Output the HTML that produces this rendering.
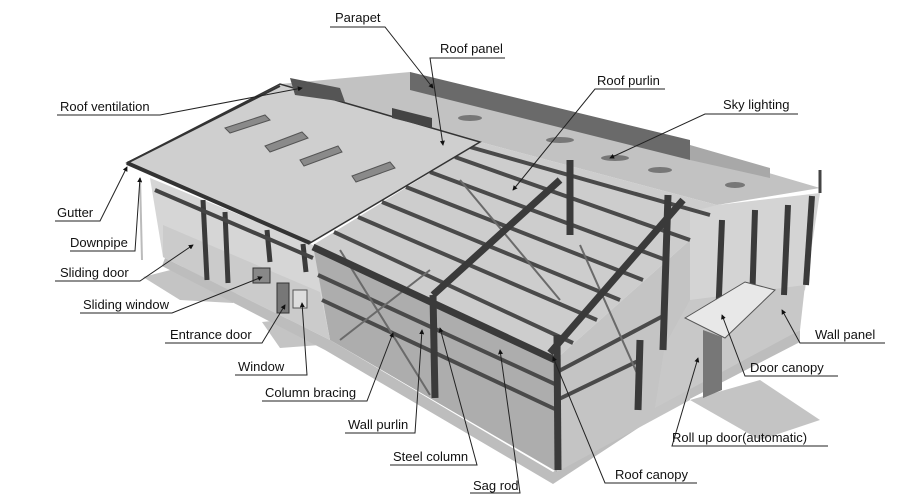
<!DOCTYPE html>
<html><head><meta charset="utf-8"><style>
html,body{margin:0;padding:0;background:#fff;}
svg{display:block;}
text{font-family:"Liberation Sans",sans-serif;font-size:13px;fill:#111;}
</style></head><body>
<svg width="900" height="494" viewBox="0 0 900 494" xmlns="http://www.w3.org/2000/svg">
<defs>
<marker id="a" viewBox="0 0 6 6" refX="5" refY="3" markerWidth="5" markerHeight="5" orient="auto"><path d="M0,0L6,3L0,6z" fill="#111"/></marker>
</defs>
<polygon points="143,277 190,265 240,285 233,303 180,300" fill="#c4c4c4"/>
<polygon points="690,400 760,380 820,420 760,440" fill="#c4c4c4"/>
<polygon points="262,322 300,318 320,345 280,348" fill="#c4c4c4"/>
<polygon points="165,258 330,340 553,472 655,405 800,330 800,342 655,417 553,484 325,350 162,266" fill="#bdbdbd"/>
<polygon points="280,84 410,72 690,150 820,188 717,205 480,142" fill="#c2c2c2"/>
<polygon points="410,72 690,140 690,160 410,90" fill="#6a6a6a"/>
<polygon points="690,145 770,168 770,178 690,160" fill="#a8a8a8"/>
<g fill="#777"><ellipse cx="615" cy="158" rx="14" ry="3"/><ellipse cx="660" cy="170" rx="12" ry="3"/><ellipse cx="735" cy="185" rx="10" ry="3"/><ellipse cx="560" cy="140" rx="14" ry="3"/><ellipse cx="470" cy="118" rx="12" ry="3"/></g>
<polygon points="313,245 480,142 717,205 690,240 555,360" fill="#cdcdcd"/>
<polygon points="313,250 555,360 557,472 330,340" fill="#adadad"/>
<polygon points="555,360 690,240 690,400 557,472" fill="#c4c4c4"/>
<polygon points="150,178 313,245 330,340 163,257" fill="#d6d6d6"/>
<polygon points="163,225 320,292 330,340 163,257" fill="#cbcbcb"/>
<g stroke="#3a3a3a" stroke-width="5"><line x1="203" y1="200" x2="207" y2="280"/><line x1="225" y1="212" x2="228" y2="283"/><line x1="267" y1="230" x2="270" y2="262"/><line x1="303" y1="244" x2="306" y2="272"/></g>
<line x1="155" y1="190" x2="313" y2="258" stroke="#444" stroke-width="4"/>
<rect x="253" y="268" width="17" height="15" fill="#888" stroke="#333"/>
<rect x="277" y="283" width="12" height="30" fill="#777" stroke="#333"/>
<rect x="293" y="290" width="14" height="18" fill="#ddd" stroke="#555"/>
<polygon points="690,212 717,205 820,193 805,290 690,335" fill="#d4d4d4"/>
<polygon points="665,345 805,290 780,318 655,408" fill="#c8c8c8"/>
<polygon points="690,300 805,285 800,330 655,408 665,345" fill="#c8c8c8"/>
<g stroke="#3a3a3a" stroke-width="6"><line x1="722" y1="220" x2="718" y2="320"/><line x1="755" y1="210" x2="752" y2="305"/><line x1="788" y1="205" x2="784" y2="295"/><line x1="812" y1="196" x2="806" y2="285"/></g>
<polygon points="685,318 745,282 775,290 725,338" fill="#e8e8e8" stroke="#555"/>
<polygon points="703,330 722,337 722,390 703,398" fill="#777"/>
<line x1="820" y1="193" x2="820" y2="170" stroke="#444" stroke-width="3"/>
<g stroke="#4a4a4a" stroke-width="4">
<line x1="334" y1="232" x2="573" y2="343"/>
<line x1="358" y1="217" x2="597" y2="320"/>
<line x1="382" y1="202" x2="620" y2="300"/>
<line x1="406" y1="187" x2="643" y2="280"/>
<line x1="430" y1="172" x2="666" y2="260"/>
<line x1="455" y1="157" x2="690" y2="240"/>
<line x1="470" y1="147" x2="710" y2="215"/>
</g>
<g stroke="#4a4a4a" stroke-width="4"><line x1="318" y1="275" x2="557" y2="385"/><line x1="322" y1="300" x2="557" y2="410"/><line x1="557" y1="400" x2="640" y2="360"/><line x1="557" y1="372" x2="665" y2="315"/></g>
<g stroke="#6a6a6a" stroke-width="2"><line x1="340" y1="250" x2="430" y2="395"/><line x1="340" y1="340" x2="430" y2="270"/><line x1="580" y1="245" x2="640" y2="380"/><line x1="460" y1="180" x2="560" y2="300"/></g>
<g stroke="#3a3a3a" stroke-width="7">
<line x1="313" y1="247" x2="555" y2="360"/>
<line x1="560" y1="180" x2="433" y2="295"/>
<line x1="433" y1="295" x2="435" y2="398"/>
<line x1="683" y1="200" x2="550" y2="353"/>
<line x1="557" y1="335" x2="558" y2="470"/>
<line x1="570" y1="160" x2="570" y2="235"/>
<line x1="668" y1="195" x2="663" y2="350"/>
<line x1="640" y1="340" x2="638" y2="410"/>
</g>
<polygon points="127,163 280,84 480,142 310,243" fill="#cfcfcf" stroke="#333" stroke-width="1.5"/>
<line x1="127" y1="163" x2="310" y2="243" stroke="#333" stroke-width="4"/>
<line x1="127" y1="163" x2="280" y2="86" stroke="#333" stroke-width="2"/>
<polygon points="290,78 340,88 345,102 295,95" fill="#555"/>
<polygon points="392,108 432,118 432,128 392,118" fill="#444"/>
<g fill="#8a8a8a" stroke="#555"><polygon points="225,128 265,115 270,120 230,133"/><polygon points="265,146 302,132 308,138 270,152"/><polygon points="300,160 338,146 342,152 304,166"/><polygon points="352,176 390,162 395,168 356,182"/></g>
<line x1="140" y1="178" x2="142" y2="260" stroke="#bbb" stroke-width="2"/>
<g fill="none" stroke="#222" stroke-width="1">
<polyline points="330,27 385,27 433,88" marker-end="url(#a)"/>
<polyline points="505,58 430,58 443,145" marker-end="url(#a)"/>
<polyline points="665,89 595,89 513,190" marker-end="url(#a)"/>
<polyline points="798,114 705,114 610,158" marker-end="url(#a)"/>
<polyline points="57,115 160,115 302,88" marker-end="url(#a)"/>
<polyline points="55,221 100,221 127,167" marker-end="url(#a)"/>
<polyline points="70,251 135,251 140,178" marker-end="url(#a)"/>
<polyline points="55,281 140,281 193,245" marker-end="url(#a)"/>
<polyline points="80,313 172,313 262,277" marker-end="url(#a)"/>
<polyline points="165,343 262,343 285,305" marker-end="url(#a)"/>
<polyline points="235,375 307,375 302,303" marker-end="url(#a)"/>
<polyline points="262,401 367,401 393,333" marker-end="url(#a)"/>
<polyline points="345,433 415,433 422,330" marker-end="url(#a)"/>
<polyline points="390,465 477,465 440,328" marker-end="url(#a)"/>
<polyline points="470,493 520,493 500,350" marker-end="url(#a)"/>
<polyline points="697,483 605,483 553,357" marker-end="url(#a)"/>
<polyline points="828,446 672,446 698,358" marker-end="url(#a)"/>
<polyline points="838,376 745,376 722,315" marker-end="url(#a)"/>
<polyline points="885,343 800,343 782,310" marker-end="url(#a)"/>
</g>
<text x="335" y="22">Parapet</text>
<text x="440" y="53">Roof panel</text>
<text x="597" y="85">Roof purlin</text>
<text x="723" y="109">Sky lighting</text>
<text x="60" y="111">Roof ventilation</text>
<text x="57" y="217">Gutter</text>
<text x="70" y="247">Downpipe</text>
<text x="60" y="277">Sliding door</text>
<text x="83" y="309">Sliding window</text>
<text x="170" y="339">Entrance door</text>
<text x="238" y="371">Window</text>
<text x="265" y="397">Column bracing</text>
<text x="348" y="429">Wall purlin</text>
<text x="393" y="461">Steel column</text>
<text x="473" y="490">Sag rod</text>
<text x="615" y="479">Roof canopy</text>
<text x="672" y="442">Roll up door(automatic)</text>
<text x="750" y="372">Door canopy</text>
<text x="815" y="339">Wall panel</text>
</svg>
</body></html>
